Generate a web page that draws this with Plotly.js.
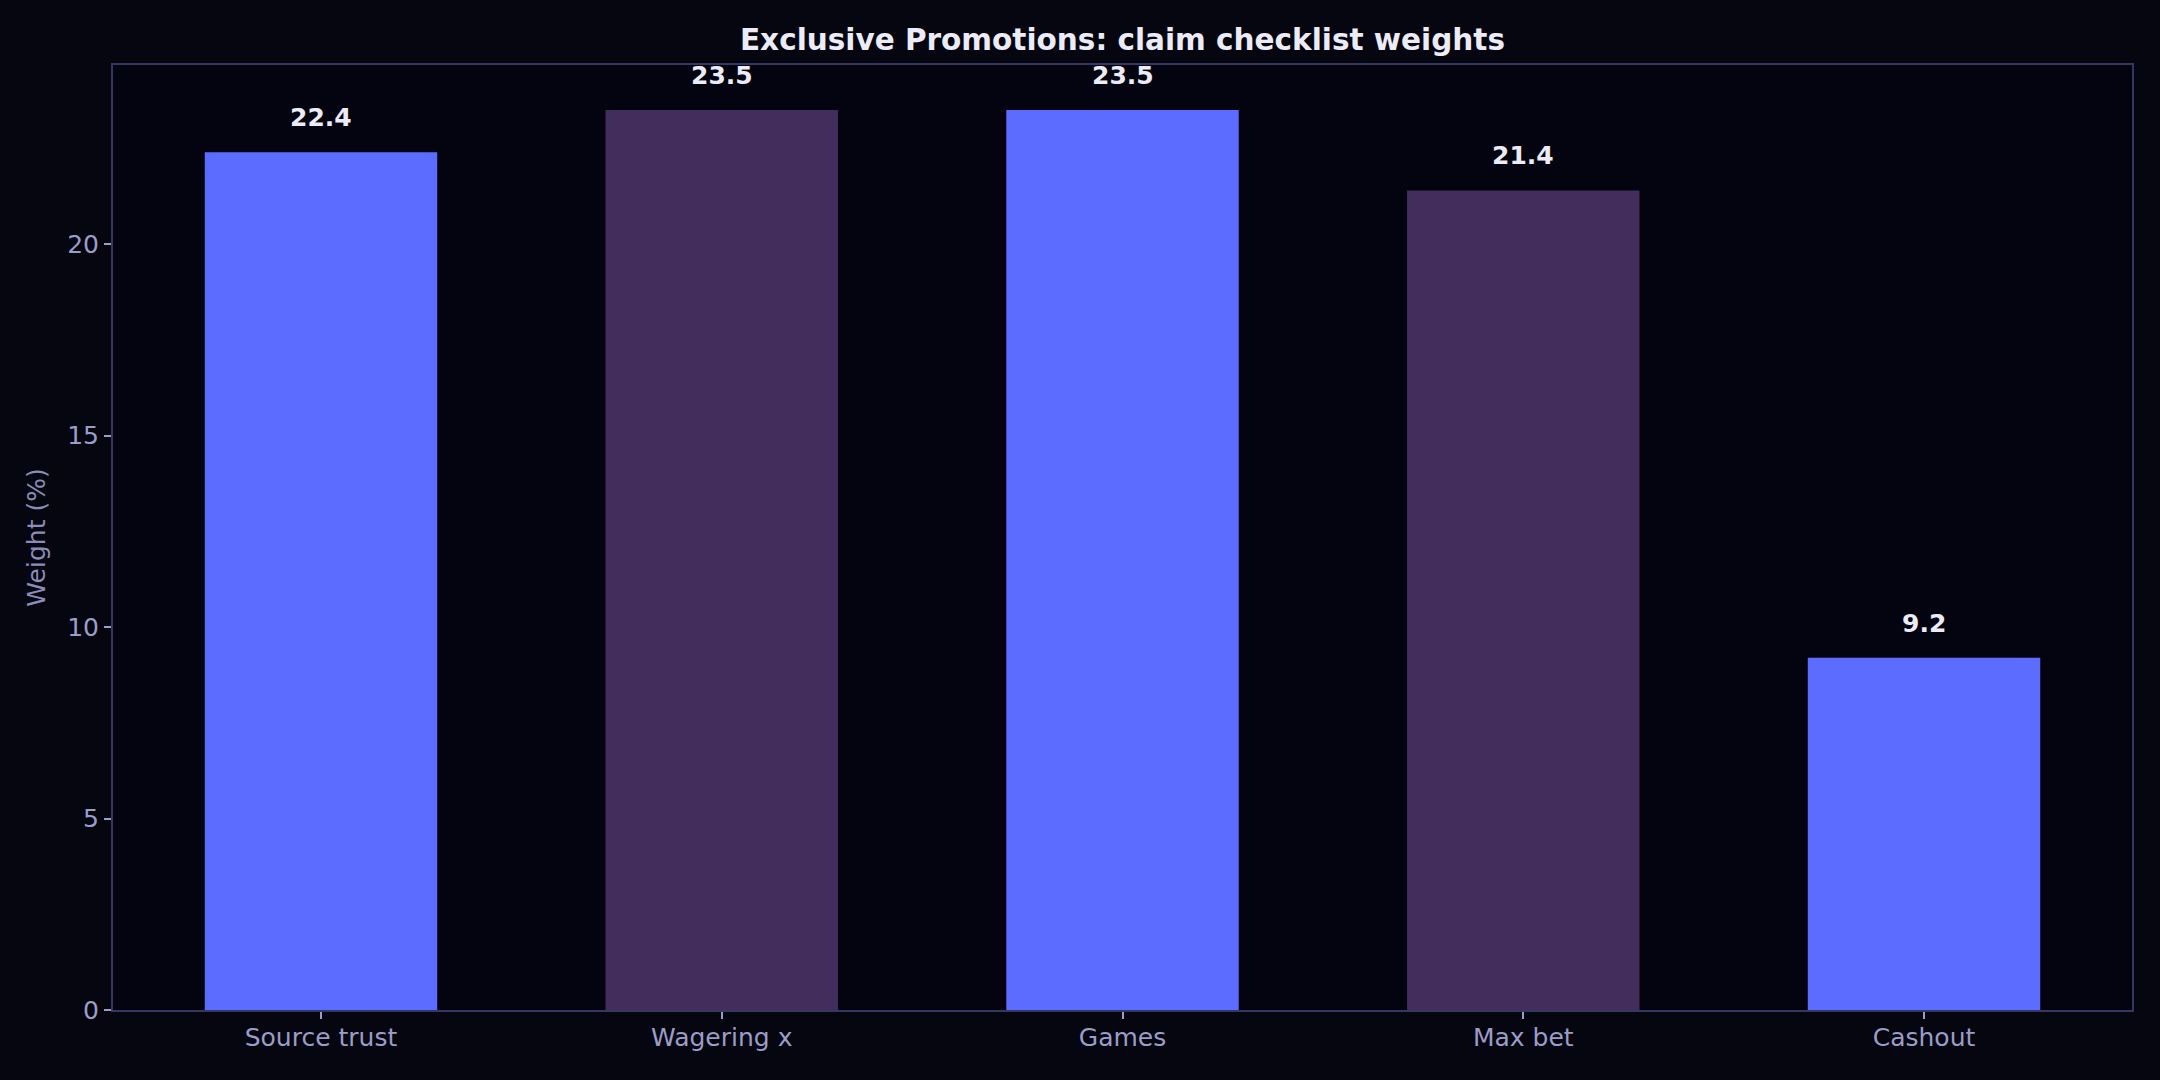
<!DOCTYPE html>
<html>
<head>
<meta charset="utf-8">
<script src="https://cdn.plot.ly/plotly-3.0.1.min.js"></script>
<style>
  html, body { margin: 0; padding: 0; background: #05060f; }
  #chart { width: 2160px; height: 1080px; }
</style>
</head>
<body>
<div id="chart"></div>
<script>
var categories = ['Source trust', 'Wagering x', 'Games', 'Max bet', 'Cashout'];
var weights = [22.4, 23.5, 23.5, 21.4, 9.2];
var barColors = ['#5c6cff', '#432d5c', '#5c6cff', '#432d5c', '#5c6cff'];

var data = [{
    x: categories,
    y: weights,
    type: 'bar',
    width: 0.58,
    marker: { color: barColors, line: { width: 0 } },
    hoverinfo: 'skip'
}];

// value labels above each bar
var labels = categories.map(function (c, i) {
    return {
        x: c, y: weights[i], xref: 'x', yref: 'y',
        text: weights[i].toFixed(1),
        showarrow: false, yanchor: 'bottom', yshift: 18,
        font: { family: 'DejaVu Sans', size: 25, color: '#ececf8', weight: 'bold' }
    };
});

var layout = {
    width: 2160,
    height: 1080,
    paper_bgcolor: '#05060f',
    plot_bgcolor: '#03040f',
    margin: { l: 113, r: 28, t: 65, b: 70 },
    font: { family: 'DejaVu Sans', color: '#9c9cc8' },
    title: {
        text: '<b>Exclusive Promotions: claim checklist weights</b>',
        font: { family: 'DejaVu Sans', size: 29.5, color: '#ececf8' },
        x: 0.5, xref: 'paper', y: 1 - 40 / 1080, yref: 'container', yanchor: 'middle'
    },
    xaxis: {
        range: [-0.519, 4.519],
        showgrid: false, zeroline: false,
        showline: true, mirror: true, linecolor: '#363662', linewidth: 2,
        ticks: 'outside', ticklen: 7, tickwidth: 2, tickcolor: '#9c9cc8',
        ticklabelstandoff: -3,
        tickfont: { size: 25, color: '#9c9cc8' }
    },
    yaxis: {
        range: [0, 24.675],
        dtick: 5,
        showgrid: false, zeroline: false,
        showline: true, mirror: true, linecolor: '#363662', linewidth: 2,
        ticks: 'outside', ticklen: 7, tickwidth: 2, tickcolor: '#9c9cc8',
        tickfont: { size: 25, color: '#9c9cc8' },
        title: { text: 'Weight (%)', font: { size: 25, color: '#8c8cb8' }, standoff: 14 }
    },
    annotations: labels,
    showlegend: false
};

Plotly.newPlot('chart', data, layout, { displayModeBar: false, staticPlot: true });
</script>
</body>
</html>
